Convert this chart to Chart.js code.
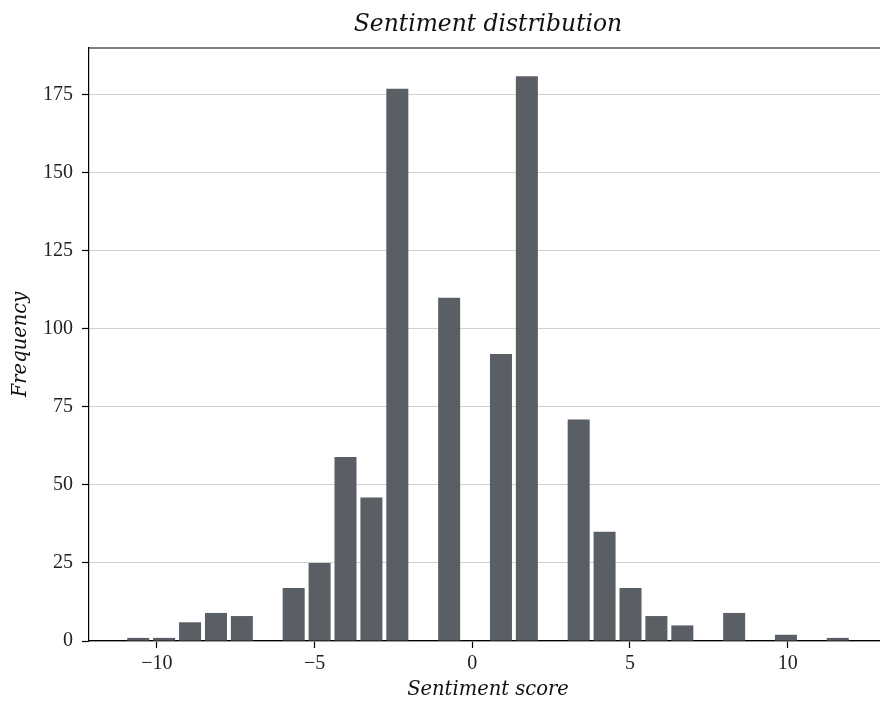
<!DOCTYPE html>
<html>
<head>
<meta charset="utf-8">
<script src="https://cdn.jsdelivr.net/npm/chart.js@4"></script>
<style>
  html, body { margin: 0; padding: 0; background: #fff; overflow: hidden; }
  #wrap { width: 895px; height: 702px; }
</style>
</head>
<body>
<div id="wrap"><canvas id="histChart" width="895" height="702"></canvas></div>
<script>
// Histogram bins (centres of 28 bins from -11 to 12) and counts
const binCenters = [-10.589, -9.768, -8.946, -8.125, -7.304, -6.482, -5.661, -4.839, -4.018, -3.196,
                    -2.375, -1.554, -0.732, 0.089, 0.911, 1.732, 2.554, 3.375, 4.196, 5.018,
                    5.839, 6.661, 7.482, 8.304, 9.125, 9.946, 10.768, 11.589];
const counts = [1, 1, 6, 9, 8, 0, 17, 25, 59, 46,
                177, 0, 110, 0, 92, 181, 0, 71, 35, 17,
                8, 5, 0, 9, 0, 2, 0, 1];
const xTicks = [-10, -5, 0, 5, 10];
const yTicks = [0, 25, 50, 75, 100, 125, 150, 175];
const chartTitle = 'Sentiment distribution';

const serif = '"Liberation Serif", "DejaVu Serif", serif';
const italicSerif = '"DejaVu Serif", serif';
const barColor = '#5a5f66';

// Top/right spines and a title centred over the axes (not the whole canvas)
const boxPlugin = {
    id: 'boxPlugin',
    afterDraw(chart) {
        const { ctx, chartArea } = chart;
        ctx.save();
        ctx.strokeStyle = '#000';
        ctx.lineWidth = 1.2;
        ctx.beginPath();
        ctx.moveTo(chartArea.left, chartArea.top);
        ctx.lineTo(chartArea.right, chartArea.top);
        ctx.lineTo(chartArea.right, chartArea.bottom);
        ctx.stroke();

        ctx.fillStyle = '#111';
        ctx.font = 'italic 23.4px ' + italicSerif;
        ctx.textAlign = 'center';
        ctx.textBaseline = 'middle';
        ctx.fillText(chartTitle, (chartArea.left + chartArea.right) / 2, 25);
        ctx.restore();
    }
};

const ctx = document.getElementById('histChart').getContext('2d');
new Chart(ctx, {
    type: 'bar',
    data: {
        datasets: [{
            label: 'Frequency',
            data: binCenters.map((c, i) => ({ x: c, y: counts[i] })),
            backgroundColor: barColor,
            borderWidth: 0,
            barPercentage: 0.85,
            categoryPercentage: 1.0
        }]
    },
    options: {
        responsive: false,
        animation: false,
        layout: { padding: { top: 48, right: 8, left: 0, bottom: 0 } },
        plugins: {
            legend: { display: false },
            tooltip: { enabled: false },
            title: { display: false }
        },
        scales: {
            x: {
                type: 'linear',
                min: -12.15,
                max: 13.15,
                offset: false,
                afterFit: s => { s.height = 61; },
                afterBuildTicks: s => { s.ticks = xTicks.map(v => ({ value: v })); },
                border: { display: true, color: '#000', width: 1.2 },
                grid: { offset: false, drawOnChartArea: false, drawTicks: true, tickLength: 7, tickColor: '#000', tickWidth: 1.2 },
                ticks: {
                    color: '#222',
                    padding: 4,
                    font: { family: serif, size: 20 },
                    callback: v => String(v).replace('-', '\u2212')
                },
                title: {
                    display: true,
                    text: 'Sentiment score',
                    color: '#111',
                    font: { family: italicSerif, size: 19.5, style: 'italic' },
                    padding: { top: 0, bottom: 0 }
                }
            },
            y: {
                min: 0,
                max: 190.05,
                afterFit: s => { s.width = 89; },
                afterBuildTicks: s => { s.ticks = yTicks.map(v => ({ value: v })); },
                border: { display: true, color: '#000', width: 1.2 },
                grid: { color: '#c4c4c4', lineWidth: 0.8, drawTicks: true, tickLength: 7, tickColor: '#000', tickWidth: 1.2 },
                ticks: {
                    color: '#222',
                    padding: 9,
                    font: { family: serif, size: 20 }
                },
                title: {
                    display: true,
                    text: 'Frequency',
                    color: '#111',
                    font: { family: italicSerif, size: 19.5, style: 'italic' },
                    padding: { top: 9, bottom: 0 }
                }
            }
        }
    },
    plugins: [boxPlugin]
});
</script>
</body>
</html>
